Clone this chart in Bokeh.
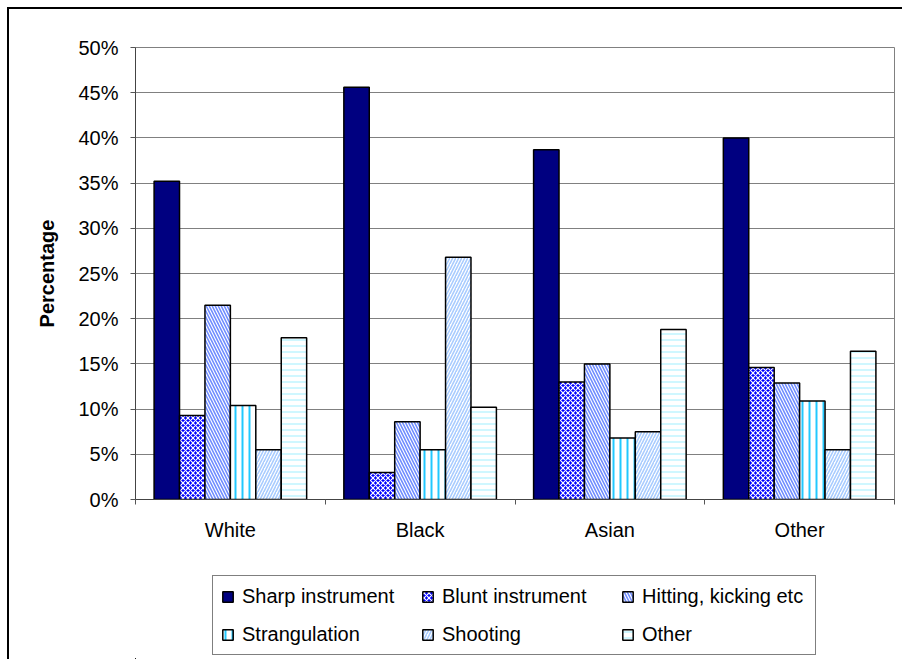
from bokeh.plotting import figure
from bokeh.layouts import column
from bokeh.models import (ColumnDataSource, FixedTicker, PrintfTickFormatter, Range1d,
                          Legend, LegendItem, InlineStyleSheet)
from bokeh.transform import dodge
from bokeh.embed import file_html
from bokeh.resources import INLINE

# Method of killing by ethnic group of victim (percent of victims in each group)
groups = ["White", "Black", "Asian", "Other"]
methods = ["Sharp instrument", "Blunt instrument", "Hitting, kicking etc",
           "Strangulation", "Shooting", "Other"]
sharp = [35.2, 45.6, 38.7, 40.0]
blunt = [9.3, 3.0, 13.0, 14.6]
hitting = [21.5, 8.6, 15.0, 12.9]
strangulation = [10.4, 5.5, 6.8, 10.9]
shooting = [5.5, 26.8, 7.5, 5.5]
other = [17.9, 10.2, 18.8, 16.4]
y_ticks = [0, 5, 10, 15, 20, 25, 30, 35, 40, 45, 50]

FONT = "Liberation Sans"
FS = "20px"

centers = [i + 0.5 for i in range(len(groups))]
source = ColumnDataSource(data=dict(
    x=centers, sharp=sharp, blunt=blunt, hitting=hitting,
    strangulation=strangulation, shooting=shooting, other=other,
))

# series styles: (column, fill, hatch pattern, hatch color, hatch scale, hatch weight)
styles = [
    ("sharp", "#000080", None, None, 6, 1),
    ("blunt", "#0000ff", "diagonal_cross", "#ffffff", 5, 1.2),
    ("hitting", "#ffffff", "left_diagonal_line", "#6f8cff", 6, 1.6),
    ("strangulation", "#ffffff", "vertical_line", "#22c8ff", 7, 2),
    ("shooting", "#ffffff", "right_diagonal_line", "#a8ccff", 6, 1.6),
    ("other", "#ffffff", "horizontal_line", "#bff4ff", 6, 1.5),
]
bar_w = 0.134
n = len(styles)


def bar_style(fill, hp, hc, hs, hw):
    kw = dict(fill_color=fill, line_color="black", line_width=1.5)
    if hp:
        kw.update(hatch_pattern=hp, hatch_color=hc, hatch_scale=hs, hatch_weight=hw)
    return kw


def add_bars(fig):
    renderers = []
    for k, (col, fill, hp, hc, hs, hw) in enumerate(styles):
        off = (k - (n - 1) / 2) * bar_w
        renderers.append(fig.vbar(x=dodge("x", off), top=col, width=bar_w, bottom=0,
                                  source=source, **bar_style(fill, hp, hc, hs, hw)))
    return renderers


# ---- main chart -------------------------------------------------------------
p = figure(width=902, height=545, output_backend="svg", toolbar_location=None,
           x_range=Range1d(0, len(groups)), y_range=Range1d(0, 50),
           min_border_left=135, min_border_right=8, min_border_top=47,
           min_border_bottom=46)
p.outline_line_color = "#808080"
p.outline_line_width = 1
p.background_fill_color = "white"
p.border_fill_color = "white"
add_bars(p)

# x axis: category names centred, tick marks on the category boundaries
p.xaxis.ticker = FixedTicker(ticks=centers, minor_ticks=list(range(len(groups) + 1)))
p.xaxis.major_label_overrides = {c: g for c, g in zip(centers, groups)}
p.xaxis.major_tick_out = 0
p.xaxis.major_tick_in = 0
p.xaxis.minor_tick_out = 5
p.xaxis.minor_tick_in = 0
p.xaxis.minor_tick_line_color = "#555555"
p.xaxis.axis_line_color = "#444444"
p.xaxis.major_label_standoff = 14
p.xaxis.major_label_text_font = FONT
p.xaxis.major_label_text_font_size = FS
p.xaxis.major_label_text_color = "black"
p.xgrid.visible = False

p.yaxis.ticker = FixedTicker(ticks=y_ticks, minor_ticks=[])
p.yaxis.formatter = PrintfTickFormatter(format="%d%%")
p.yaxis.major_tick_out = 5
p.yaxis.major_tick_in = 0
p.yaxis.major_tick_line_color = "#555555"
p.yaxis.axis_line_color = "#444444"
p.yaxis.major_label_standoff = 12
p.yaxis.major_label_text_font = FONT
p.yaxis.major_label_text_font_size = FS
p.yaxis.major_label_text_color = "black"
p.yaxis.axis_label = "Percentage"
p.yaxis.axis_label_text_font = FONT
p.yaxis.axis_label_text_font_size = FS
p.yaxis.axis_label_text_font_style = "bold"
p.yaxis.axis_label_text_color = "black"
p.yaxis.axis_label_standoff = 17
p.ygrid.grid_line_color = "#808080"
p.ygrid.grid_line_width = 1

# ---- legend strip (same bar renderers, with the view ranges off the bars) ---
lg = figure(width=902, height=114, output_backend="svg", toolbar_location=None,
            x_range=Range1d(10, 11), y_range=Range1d(60, 61),
            x_axis_location=None, y_axis_location=None, min_border=0)
lg.grid.visible = False
lg.outline_line_color = None
lg.background_fill_color = "white"
lg.border_fill_color = "white"

items = [LegendItem(label=m, renderers=[r]) for m, r in zip(methods, add_bars(lg))]

legend = Legend(items=items, orientation="horizontal", ncols=3, location=(77, 4))
legend.border_line_color = "black"
legend.border_line_width = 1
legend.background_fill_color = "white"
legend.background_fill_alpha = 1
legend.label_text_font = FONT
legend.label_text_font_size = FS
legend.label_text_color = "black"
legend.glyph_width = 13
legend.glyph_height = 13
legend.label_standoff = 8
legend.label_width = 165
legend.label_height = 24
legend.spacing = 14
legend.padding = 8
legend.margin = 0
lg.add_layout(legend, "center")

chart = column(p, lg, spacing=0)
# left/top edge of the chart area box
chart.stylesheets = [InlineStyleSheet(css=(
    ":host{position:relative;}"
    ":host::after{content:'';position:absolute;left:7px;top:7px;right:0;bottom:0;"
    "border-left:2px solid #000;border-top:2px solid #000;pointer-events:none;}"
))]

open("out.html", "w").write(file_html(chart, INLINE))
